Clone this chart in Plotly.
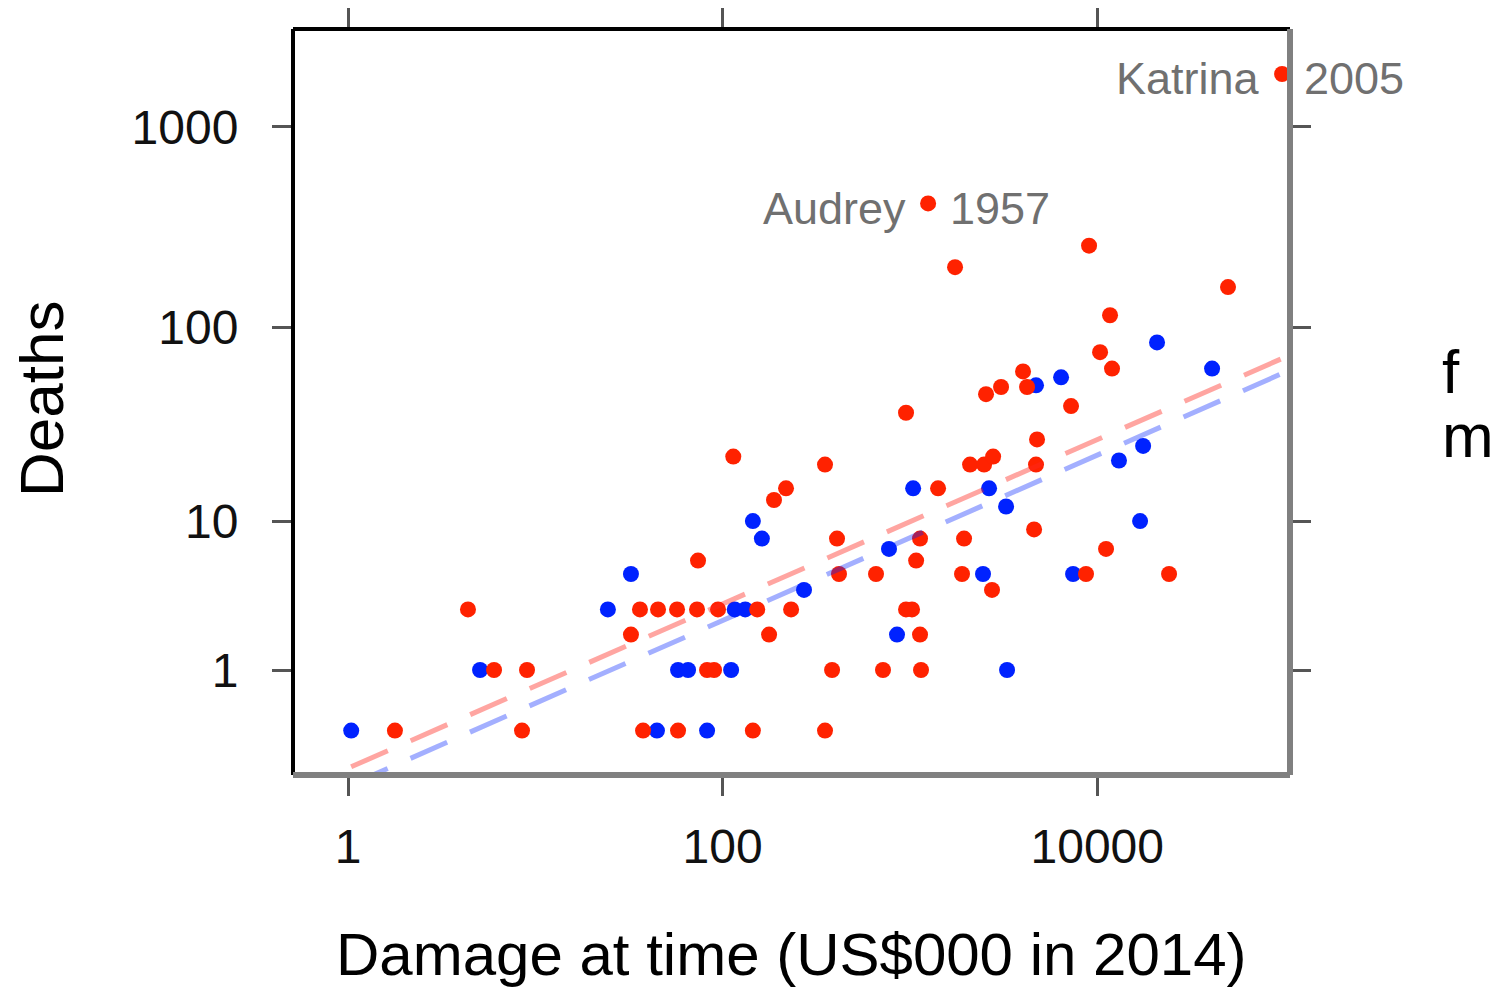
import numpy as np
import plotly.graph_objects as go

# ---- data ----
f_damage = [1.78, 4.37, 6.02, 9.03, 8.49, 32.4, 36.2, 45.2, 57.1, 73.0, 73.9, 37.6, 57.8,
            82.6, 90.0, 94.5, 153, 232, 177, 145, 352, 114, 352, 218, 188, 384, 718, 1146,
            408, 418, 659, 1132, 1079, 953, 1026, 1132, 1413, 1945, 1897, 2743, 2094, 2488,
            2780, 953, 2548, 3065, 4015, 4220, 4770, 4710, 4600, 7245, 8710, 11140, 24170,
            10350, 11990, 11700, 9040, 1741, 49900, 1250, 97000]
f_deaths = [0, 3, 1, 1, 0, 2, 3, 3, 3, 3, 6, 0, 0,
            1, 1, 3, 3, 3, 2, 0, 0, 22, 20, 15, 13, 1, 1, 1,
            8, 5, 5, 8, 6, 3, 3, 2, 15, 8, 5, 4, 20, 20,
            22, 37, 46, 50, 60, 50, 27, 20, 9, 40, 5, 7, 5,
            75, 62, 115, 256, 200, 159, 416, 1833]

m_damage = [1.04, 5.07, 24.4, 32.4, 44.6, 57.8, 65.4, 82.6, 111, 116, 132, 145, 162, 272,
            773, 853, 1040, 2455, 2645, 3260, 3300, 4710, 6410, 7430, 13060, 16930, 17570,
            20850, 41020]
m_deaths = [0, 1, 3, 5, 0, 1, 1, 0, 1, 3, 3, 10, 8, 4,
            7, 2, 15, 5, 15, 12, 1, 51, 56, 5, 21, 10, 25,
            84, 62]

# fitted trend lines, y on the deaths+1 scale
trend_damage = [0.5, 120000]
f_trend = [0.49, 77.1]
m_trend = [0.399, 65.0]

x_tickvals = [1, 100, 10000]
x_ticktext = ["1", "100", "10000"]
y_tick_deaths = [1, 10, 100, 1000]

labelled = [("Katrina", "2005", 97000, 1833), ("Audrey", "1957", 1250, 416)]

RED = "#ff2200"
BLUE = "#0022ff"
FONT = "Liberation Sans"

fig = go.Figure()
fig.add_trace(go.Scatter(x=m_damage, y=np.array(m_deaths) + 1, mode="markers",
                         marker=dict(size=16, color=BLUE), name="m", showlegend=False))
fig.add_trace(go.Scatter(x=f_damage, y=np.array(f_deaths) + 1, mode="markers",
                         marker=dict(size=16, color=RED), name="f", showlegend=False))
fig.add_trace(go.Scatter(x=trend_damage, y=f_trend, mode="lines",
                         line=dict(color="rgba(255,40,30,0.42)", width=5, dash="40px,25px"),
                         showlegend=False))
fig.add_trace(go.Scatter(x=trend_damage, y=m_trend, mode="lines",
                         line=dict(color="rgba(0,34,255,0.36)", width=5, dash="40px,25px"),
                         showlegend=False))

ann = []
for name, year, dmg, dth in labelled:
    ann.append(dict(x=np.log10(dmg), y=np.log10(dth + 1), xref="x", yref="y", text=name,
                    showarrow=False, xanchor="right", xshift=-20, yshift=-5,
                    font=dict(family=FONT, size=45, color="#707070")))
    ann.append(dict(x=np.log10(dmg), y=np.log10(dth + 1), xref="x", yref="y", text=year,
                    showarrow=False, xanchor="left", xshift=20, yshift=-5,
                    font=dict(family=FONT, size=45, color="#707070")))

ann.append(dict(x=0.5, y=0, xref="paper", yref="paper", text="Damage at time (US$000 in 2014)",
                showarrow=False, xanchor="center", yanchor="top", yshift=-144,
                font=dict(family=FONT, size=60, color="black")))
ann.append(dict(x=0, y=0.5, xref="paper", yref="paper", text="Deaths", textangle=-90,
                showarrow=False, xanchor="center", yanchor="middle", xshift=-252, yshift=3,
                font=dict(family=FONT, size=62, color="black")))
ann.append(dict(x=1, y=0.5, xref="paper", yref="paper", text="f",
                showarrow=False, xanchor="left", yanchor="middle", xshift=150, yshift=31,
                font=dict(family=FONT, size=62, color="black")))
ann.append(dict(x=1, y=0.5, xref="paper", yref="paper", text="m",
                showarrow=False, xanchor="left", yanchor="middle", xshift=150, yshift=-33,
                font=dict(family=FONT, size=62, color="black")))

shapes = [
    dict(type="line", xref="paper", yref="paper", x0=0, x1=1, y0=1, y1=1,
         line=dict(color="black", width=4), layer="above"),
    dict(type="line", xref="paper", yref="paper", x0=0, x1=0, y0=0, y1=1,
         line=dict(color="black", width=4), layer="above"),
    dict(type="line", xref="paper", yref="paper", x0=1, x1=1, y0=0, y1=1,
         line=dict(color="#808080", width=6), layer="above"),
    dict(type="line", xref="paper", yref="paper", x0=0, x1=1, y0=0, y1=0,
         line=dict(color="#808080", width=6), layer="above"),
]

axis_common = dict(showgrid=False, zeroline=False, showline=False, ticks="outside",
                   ticklen=20, tickwidth=3, tickcolor="#555555", mirror="ticks",
                   tickfont=dict(family=FONT, size=48, color="#111111"))

fig.update_layout(
    width=1497, height=987,
    margin=dict(l=293, r=207, t=29, b=212),
    paper_bgcolor="white", plot_bgcolor="white",
    xaxis=dict(type="log", range=[-0.2937, 5.029], tickvals=x_tickvals, ticktext=x_ticktext,
               ticklabelstandoff=9, **axis_common),
    yaxis=dict(type="log", range=[-0.2207, 3.487],
               tickvals=[d + 1 for d in y_tick_deaths], ticktext=[str(d) for d in y_tick_deaths],
               ticklabelstandoff=24, **axis_common),
    annotations=ann, shapes=shapes, showlegend=False,
)

fig.write_html("out.html")
